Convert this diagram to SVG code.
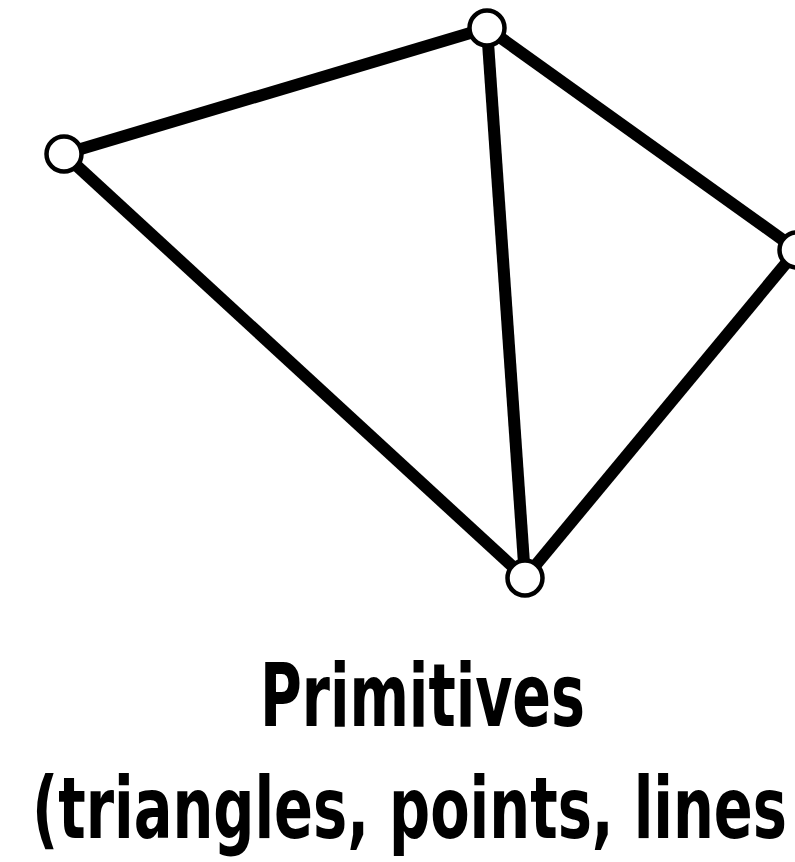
<svg xmlns="http://www.w3.org/2000/svg" width="795" height="862" viewBox="0 0 795 862">
<style>
.edge{stroke:#000;stroke-width:12;fill:none}
.vtx{fill:#fff;stroke:#000;stroke-width:4.5}
.lbl{font-family:"DejaVu Sans","Liberation Sans",sans-serif;font-stretch:condensed;font-weight:bold;font-size:88px;fill:#000}
</style>
<rect width="795" height="862" fill="#fff"/>
<g id="connectors">
<line class="edge" x1="64" y1="154" x2="487" y2="28"/>
<line class="edge" x1="487" y1="28" x2="797" y2="250"/>
<line class="edge" x1="487" y1="28" x2="525" y2="578"/>
<line class="edge" x1="64" y1="154" x2="525" y2="578"/>
<line class="edge" x1="797" y1="250" x2="525" y2="578"/>
</g>
<g id="v1"><circle class="vtx" cx="64" cy="154" r="17.5"/></g>
<g id="v2"><circle class="vtx" cx="487" cy="28" r="17.5"/></g>
<g id="v3"><circle class="vtx" cx="797" cy="250" r="17.5"/></g>
<g id="v4"><circle class="vtx" cx="525" cy="578" r="17.5"/></g>
<g id="label">
<text class="lbl" x="260" y="726" textLength="325" lengthAdjust="spacingAndGlyphs">Primitives</text>
<text class="lbl" x="32" y="838" style="font-size:85px" textLength="755" lengthAdjust="spacingAndGlyphs">(triangles, points, lines</text>
</g>
</svg>
